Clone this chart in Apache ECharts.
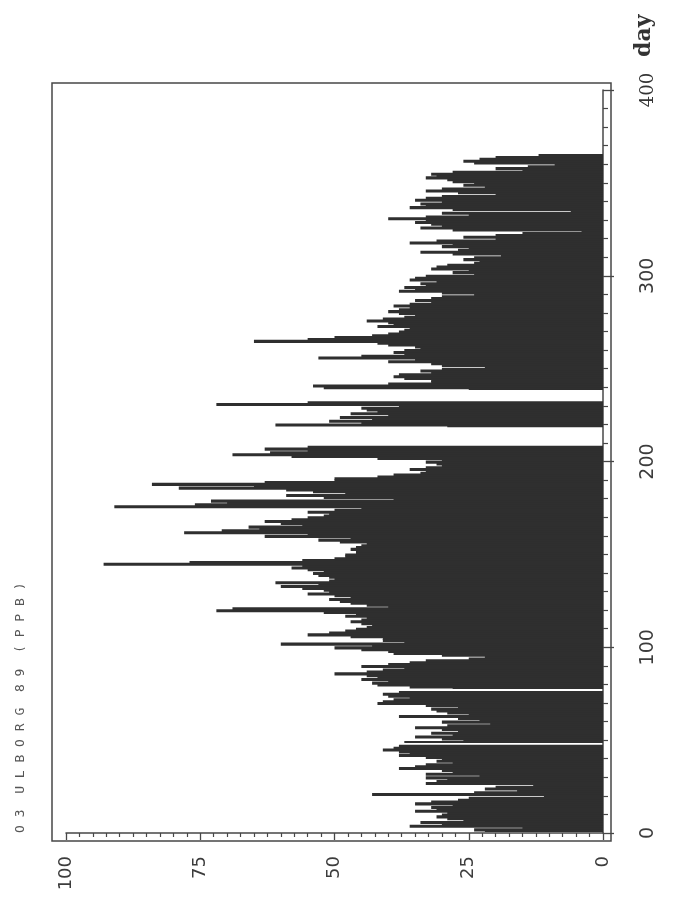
<!DOCTYPE html>
<html>
<head>
<meta charset="utf-8">
<script src="https://cdn.jsdelivr.net/npm/echarts@6/dist/echarts.min.js"></script>
<style>
html,body{margin:0;padding:0;background:#ffffff;}
#c{width:675px;height:911px;}
</style>
</head>
<body>
<div id="c"></div>
<script>
// Daily ozone values (ppb), Ulborg 1989, one array per month (null = missing day)
const jan = [22,24,15,36,30,34,26,29,31,30,29,35,31,32,28,35,32,27,25,11,43,24,16,22,20,13,33,31,29,33,23];
const feb = [33,28,30,38,35,33,28,31,30,33,38,36,38,41,39,38,null,37,26,30,35,28,32,27,30,35,29,21];
const mar = [30,23,27,38,25,29,31,32,27,33,42,41,39,36,40,41,38,null,28,36,42,43,40,45,42,44,50,44,41,37,45];
const apr = [40,36,33,25,22,30,39,40,45,50,43,60,37,41,41,47,55,51,48,46,44,43,45,47,45,44,48,46,52,72];
const may = [69,40,44,47,49,51,47,50,55,51,52,56,60,53,61,51,50,51,53,54,52,55,58,56,93,77,56,50,48,48,46];
const jun = [46,47,46,45,44,49,53,47,63,55,78,71,64,66,56,60,63,58,55,52,51,55,50,45,91,76,70,73,39,52];
const jul = [59,48,54,59,79,65,84,63,50,50,42,39,34,33,36,33,30,31,33,30,42,58,69,62,55,63,55,null,null,null,null];
const aug = [null,null,null,null,null,null,29,61,45,51,43,49,40,47,42,44,45,38,72,55,null,null,null,null,null,null,25,52,54,40,32];
const sep = [32,37,39,38,32,34,30,22,30,32,40,35,53,45,37,39,37,34,35,40,42,65,55,50,43,40,38,37,36,42];
const oct = [39,40,44,41,37,35,38,40,38,36,39,36,32,35,32,30,24,30,38,35,37,33,34,31,36,35,33,24,28,25,32];
const nov = [31,29,24,23,26,24,19,28,34,27,25,30,28,36,31,20,26,20,15,4,28,34,30,32,35,33,40,33,25,30];
const dec = [6,28,36,33,34,30,35,33,30,20,27,33,30,22,26,24,28,29,33,31,32,28,15,20,14,9,24,26,23,20,12];

const ppbTickLabels = ['0','25','50','75','100'];
const dayTickLabels = ['0','100','200','300','400'];
const titleText = 'O 3  U L B O R G  8 9  ( P P B )';
const dayAxisName = 'day';

const allValues = [].concat(jan, feb, mar, apr, may, jun, jul, aug, sep, oct, nov, dec);
const seriesData = [];
allValues.forEach(function (v, i) {
  if (v !== null) seriesData.push([i + 1, v, (i > 0 && allValues[i - 1] !== null) ? 1 : 0]);
});

const chart = echarts.init(document.getElementById('c'), null, {renderer: 'canvas'});

const GL = 66, GR = 72, GT = 90, GB = 78;
const AX = '#474747';

const option = {
  animation: false,
  backgroundColor: '#ffffff',
  grid: {left: GL, right: GR, top: GT, bottom: GB, containLabel: false, outerBoundsMode: 'none'},
  xAxis: {
    type: 'value', min: 0, max: 100, interval: 25, inverse: true, position: 'bottom', offset: 8,
    axisLine: {show: true, lineStyle: {color: AX, width: 1.5}},
    axisTick: {show: true, length: 7, lineStyle: {color: AX, width: 1.3}},
    minorTick: {show: true, splitNumber: 10, length: 4, lineStyle: {color: AX, width: 1.2}},
    splitLine: {show: false}, minorSplitLine: {show: false},
    axisLabel: {
      rotate: 90, margin: 15, fontSize: 18, fontFamily: 'DejaVu Sans', color: '#3c3c3c',
      formatter: function (v) { return ppbTickLabels[Math.round(v / 25)]; }
    }
  },
  yAxis: {
    type: 'value', min: 0, max: 400, interval: 100, position: 'right', offset: 8,
    name: dayAxisName, nameLocation: 'end', nameRotate: 90, nameGap: 33,
    nameTextStyle: {fontFamily: 'DejaVu Serif', fontWeight: 'bold', fontSize: 22, color: '#333333',
                    align: 'left', verticalAlign: 'top', padding: [30, 0, 0, 0]},
    axisLine: {show: true, lineStyle: {color: AX, width: 1.5}},
    axisTick: {show: true, length: 11, lineStyle: {color: AX, width: 1.3}},
    minorTick: {show: true, splitNumber: 10, length: 5, lineStyle: {color: AX, width: 1.2}},
    splitLine: {show: false}, minorSplitLine: {show: false},
    axisLabel: {
      rotate: 90, margin: 28, fontSize: 19, fontFamily: 'DejaVu Sans', color: '#3c3c3c',
      formatter: function (v) {
        const t = dayTickLabels[Math.round(v / 100)];
        return v === 400 ? '{s|' + t + '}' : t;
      },
      rich: {s: {fontFamily: 'DejaVu Serif', fontSize: 18, color: '#333333'}}
    }
  },
  graphic: [
    {
      type: 'rect', silent: true, z: 10,
      shape: {x: 52, y: 83, width: 559, height: 758},
      style: {fill: null, stroke: AX, lineWidth: 1.5}
    },
    {
      type: 'text', silent: true, x: 21, y: 833, rotation: Math.PI / 2,
      style: {text: titleText, fontFamily: 'DejaVu Sans Mono', fontSize: 13, fill: '#555555',
              textAlign: 'left', textVerticalAlign: 'middle'}
    }
  ],
  series: [{
    type: 'custom',
    data: seriesData,
    encode: {x: 1, y: 0},
    renderItem: function (params, api) {
      const day = api.value(0), v = api.value(1), joined = api.value(2);
      const a = api.coord([v, day + 0.5]);
      const b = api.coord([0, day - 0.5]);
      return {
        type: 'rect',
        shape: {x: a[0], y: a[1], width: b[0] - a[0], height: b[1] - a[1] + (joined ? 1.2 : 0)},
        style: {fill: '#2f2f2f'}
      };
    }
  }]
};
chart.setOption(option);
</script>
</body>
</html>
